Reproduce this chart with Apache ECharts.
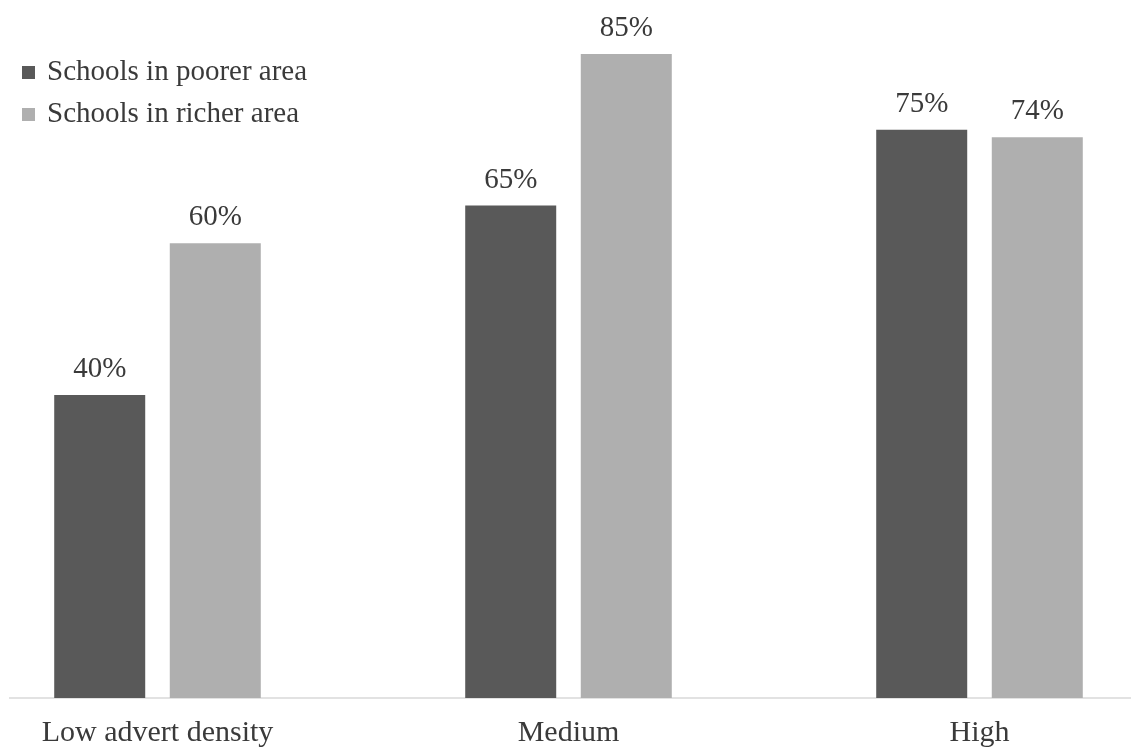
<!DOCTYPE html>
<html><head><meta charset="utf-8">
<script src="https://cdn.jsdelivr.net/npm/echarts@6/dist/echarts.min.js"></script>
<style>html,body{margin:0;padding:0;background:#fff;overflow:hidden;width:1131px;height:749px}#c{width:1233px;height:749px;margin-left:-48px}</style>
</head><body><div id="c"></div>
<script>
const categories = ['Low advert density', 'Medium', 'High'];
const poorer = [40, 65, 75];
const richer = [60, 85, 74];
const seriesNames = ['Schools in poorer area', 'Schools in richer area'];

const chart = echarts.init(document.getElementById('c'));
const font = '"Liberation Serif", "DejaVu Serif", serif';
const labelCfg = {show: true, position: 'top', distance: 11, formatter: '{c}%', fontFamily: font, fontSize: 29, color: '#3a3a3a'};
chart.setOption({
  animation: false,
  legend: {
    orient: 'vertical', left: 70, top: 58, itemWidth: 13, itemHeight: 13, itemGap: 13, padding: 0,
    icon: 'rect',
    textStyle: {fontFamily: font, fontSize: 29, color: '#3a3a3a', padding: [0, 0, 0, 7]},
    data: seriesNames
  },
  grid: {left: 0, right: 0, top: 16, bottom: 51, containLabel: false},
  xAxis: {
    type: 'category', data: categories,
    axisLine: {show: false},
    axisTick: {show: false},
    axisLabel: {fontFamily: font, fontSize: 30, color: '#3a3a3a', margin: 20}
  },
  yAxis: {type: 'value', min: 0, max: 90, show: false, splitLine: {show: false}},
  graphic: [{type: 'line', shape: {x1: 57, y1: 698, x2: 1233, y2: 698}, style: {stroke: '#d9d9d9', lineWidth: 1.5}}],
  series: [
    {name: seriesNames[0], type: 'bar', data: poorer, barWidth: 91, barGap: '27%', itemStyle: {color: '#595959'}, label: labelCfg},
    {name: seriesNames[1], type: 'bar', data: richer, barWidth: 91, itemStyle: {color: '#afafaf'}, label: labelCfg}
  ]
});
</script></body></html>
